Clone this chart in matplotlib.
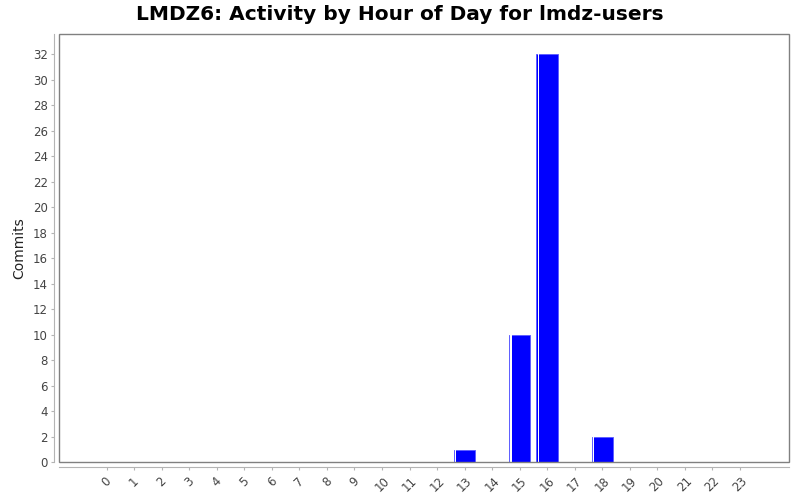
import matplotlib
matplotlib.use("Agg")
import matplotlib.pyplot as plt
from matplotlib.patches import Rectangle
import numpy as np

hours = list(range(24))
hour_labels = [str(h) for h in hours]
commits = [0, 0, 0, 0, 0, 0, 0, 0, 0, 0, 0, 0, 0, 1, 0, 10, 32, 0, 2, 0, 0, 0, 0, 0]
y_ticks = list(range(0, 33, 2))

plt.rcParams['font.family'] = ['DejaVu Sans']

fig = plt.figure(figsize=(8, 5), dpi=100)
ax = fig.add_axes([59 / 800, (500 - 462.3) / 500, 729.7 / 800, 428 / 500])

x = np.array(hours, dtype=float)
v = np.array(commits, dtype=float)
w = 0.78
mask = v > 0
ax.bar(x[mask], v[mask], width=w, color='#0000ff', edgecolor='#5a5aff', linewidth=0.6, zorder=2)
# thin white highlight strip near left edge of each bar
ax.bar(x[mask] - w / 2 + 0.045, v[mask], width=0.05, align='edge', color='white', linewidth=0, zorder=3)

ax.set_xlim(-1.73, 24.77)
ax.set_ylim(0, 33.55)
ax.set_xticks(hours)
ax.set_xticklabels(hour_labels)
ax.set_yticks(y_ticks)
ax.set_yticklabels([str(t) for t in y_ticks])

axis_col = '#b4b4b4'
for s in ['top', 'right']:
    ax.spines[s].set_visible(False)
ax.spines['left'].set_position(('outward', 3.6))
ax.spines['bottom'].set_position(('outward', 3.3))
ax.spines['left'].set_color(axis_col)
ax.spines['bottom'].set_color(axis_col)
ax.spines['left'].set_linewidth(0.8)
ax.spines['bottom'].set_linewidth(0.8)

ax.add_patch(Rectangle((0, 0), 1, 1, transform=ax.transAxes, fill=False,
                       edgecolor='#808080', linewidth=1.0, clip_on=False, zorder=4))

ax.tick_params(axis='both', colors=axis_col, labelcolor='#444444', labelsize=8.5,
               length=2.5, width=0.8)
ax.tick_params(axis='y', pad=2)
ax.tick_params(axis='x', pad=3, labelrotation=45)
for lbl in ax.get_xticklabels():
    lbl.set_ha('center')

ax.set_ylabel('Commits', fontsize=10, color='#222222', labelpad=5)

fig.text(0.5, 1 - 14 / 500, 'LMDZ6: Activity by Hour of Day for lmdz-users',
         ha='center', va='center', fontsize=14.5, fontweight='bold', color='black')

fig.savefig('out.png', dpi=100)
